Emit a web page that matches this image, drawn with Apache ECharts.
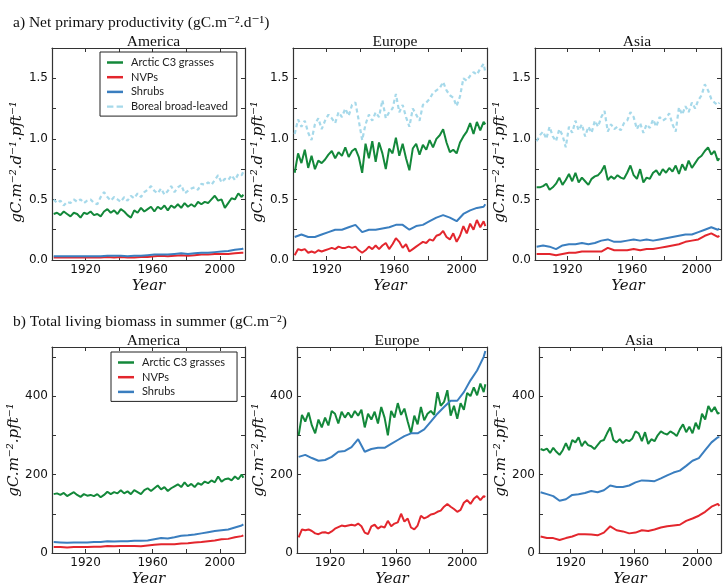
<!DOCTYPE html>
<html><head><meta charset="utf-8">
<script src="https://cdn.jsdelivr.net/npm/echarts@6/dist/echarts.min.js"></script>
<style>html,body{margin:0;padding:0;background:#fff}#c{width:724px;height:588px}</style>
</head><body><div id="c"></div>
<script>
// ---------- categories (years) ----------
const years2 = [1901,1903,1905,1907,1909,1911,1913,1915,1917,1919,1921,1923,1925,1927,1929,1931,1933,1935,1937,1939,1941,1943,1945,1947,1949,1951,1953,1955,1957,1959,1961,1963,1965,1967,1969,1971,1973,1975,1977,1979,1981,1983,1985,1987,1989,1991,1993,1995,1997,1999,2001,2003,2005,2007,2009,2011,2013,2014];
const years4 = [1901,1905,1909,1913,1917,1921,1925,1929,1933,1937,1941,1945,1949,1953,1957,1961,1965,1969,1973,1977,1981,1985,1989,1993,1997,2001,2005,2009,2013,2014];

// ---------- a) NPP, America ----------
const nppAmGrass = [0.38,0.39,0.37,0.40,0.38,0.36,0.39,0.38,0.35,0.39,0.38,0.40,0.37,0.38,0.36,0.40,0.42,0.39,0.41,0.38,0.42,0.40,0.37,0.35,0.41,0.39,0.43,0.40,0.42,0.44,0.40,0.44,0.42,0.45,0.41,0.45,0.43,0.46,0.43,0.47,0.44,0.46,0.44,0.48,0.46,0.48,0.47,0.50,0.53,0.49,0.50,0.43,0.47,0.51,0.50,0.55,0.52,0.54];
const nppAmNvp = [0.02,0.02,0.02,0.02,0.02,0.02,0.02,0.02,0.025,0.02,0.025,0.02,0.02,0.025,0.025,0.03,0.035,0.03,0.035,0.04,0.035,0.04,0.045,0.045,0.05,0.05,0.05,0.055,0.06,0.06];
const nppAmShrub = [0.03,0.03,0.03,0.03,0.03,0.03,0.03,0.03,0.035,0.035,0.035,0.03,0.035,0.035,0.04,0.045,0.045,0.045,0.05,0.055,0.05,0.055,0.06,0.06,0.065,0.07,0.075,0.085,0.09,0.095];
const nppAmBoreal = [0.50,0.47,0.49,0.45,0.48,0.47,0.50,0.48,0.50,0.47,0.49,0.50,0.47,0.46,0.52,0.56,0.52,0.49,0.52,0.50,0.48,0.52,0.49,0.53,0.51,0.55,0.52,0.56,0.58,0.61,0.57,0.55,0.59,0.54,0.57,0.61,0.56,0.60,0.62,0.55,0.57,0.59,0.60,0.58,0.63,0.62,0.64,0.62,0.66,0.70,0.64,0.67,0.66,0.70,0.66,0.71,0.70,0.73];

// ---------- a) NPP, Europe ----------
const nppEuGrass = [0.72,0.88,0.80,0.91,0.76,0.86,0.75,0.82,0.80,0.83,0.87,0.90,0.84,0.89,0.86,0.93,0.85,0.90,0.92,0.85,0.72,0.96,0.84,0.98,0.81,0.97,0.88,0.75,0.92,0.88,1.01,0.86,0.96,0.84,0.74,0.92,0.96,0.87,0.95,0.91,0.99,0.93,1.00,1.03,1.08,0.97,0.89,0.91,0.88,0.97,1.02,1.06,1.13,1.04,1.14,1.07,1.14,1.12];
const nppEuNvp = [0.04,0.09,0.08,0.09,0.06,0.07,0.06,0.08,0.07,0.08,0.09,0.10,0.09,0.11,0.10,0.10,0.11,0.10,0.11,0.08,0.06,0.08,0.11,0.09,0.12,0.09,0.12,0.14,0.09,0.13,0.18,0.15,0.10,0.13,0.07,0.09,0.11,0.13,0.15,0.14,0.17,0.16,0.20,0.21,0.24,0.19,0.17,0.22,0.15,0.20,0.28,0.22,0.30,0.25,0.33,0.27,0.32,0.28];
const nppEuShrub = [0.19,0.21,0.19,0.19,0.21,0.23,0.25,0.25,0.27,0.29,0.23,0.25,0.25,0.26,0.27,0.29,0.29,0.25,0.28,0.29,0.32,0.35,0.37,0.35,0.32,0.38,0.41,0.43,0.44,0.46];
const nppEuBoreal = [1.04,1.16,1.10,1.15,1.05,0.99,1.12,1.17,1.08,1.15,1.20,1.17,1.13,1.22,1.18,1.25,1.19,1.28,1.30,1.15,0.99,1.12,1.20,1.15,1.22,1.18,1.32,1.17,1.22,1.25,1.37,1.22,1.28,1.18,1.10,1.25,1.20,1.15,1.28,1.30,1.33,1.38,1.40,1.42,1.47,1.40,1.36,1.34,1.27,1.35,1.50,1.48,1.52,1.55,1.53,1.58,1.62,1.55];

// ---------- a) NPP, Asia ----------
const nppAsGrass = [0.60,0.60,0.61,0.63,0.58,0.60,0.63,0.68,0.62,0.66,0.71,0.65,0.72,0.64,0.68,0.65,0.62,0.67,0.69,0.70,0.73,0.78,0.66,0.69,0.67,0.70,0.68,0.67,0.72,0.78,0.70,0.67,0.75,0.64,0.68,0.67,0.72,0.74,0.70,0.75,0.72,0.76,0.73,0.78,0.71,0.79,0.74,0.82,0.76,0.80,0.84,0.86,0.90,0.93,0.87,0.90,0.82,0.84];
const nppAsNvp = [0.05,0.05,0.05,0.04,0.05,0.06,0.06,0.07,0.07,0.07,0.07,0.10,0.08,0.08,0.08,0.09,0.08,0.09,0.09,0.10,0.11,0.12,0.13,0.15,0.16,0.17,0.20,0.22,0.19,0.20];
const nppAsShrub = [0.11,0.12,0.11,0.09,0.12,0.13,0.13,0.14,0.13,0.14,0.16,0.17,0.15,0.15,0.16,0.17,0.16,0.17,0.16,0.17,0.18,0.19,0.20,0.21,0.21,0.23,0.25,0.27,0.25,0.26];
const nppAsBoreal = [0.98,1.03,1.06,1.00,1.10,1.02,0.98,1.08,1.03,0.93,1.10,1.05,1.15,1.07,1.12,1.02,1.10,1.05,1.15,1.10,1.18,1.23,1.06,1.12,1.08,1.10,1.07,1.13,1.15,1.22,1.18,1.08,1.13,1.05,1.12,1.09,1.16,1.10,1.18,1.15,1.17,1.21,1.12,1.06,1.26,1.20,1.27,1.22,1.30,1.25,1.32,1.36,1.45,1.40,1.33,1.30,1.28,1.30];

// ---------- b) Biomass, America ----------
const bioAmGrass = [150,152,148,153,145,150,155,148,143,150,146,148,145,150,142,148,156,150,155,152,160,152,157,150,160,155,150,160,165,158,165,172,162,168,158,165,170,175,168,180,170,176,168,178,174,182,178,185,180,195,182,188,190,185,195,188,200,192];
const bioAmNvp = [15,15,14,15,15,15,16,16,18,17,18,18,18,17,19,21,22,22,22,24,25,27,28,30,32,35,36,40,43,45];
const bioAmShrub = [28,27,26,27,27,27,28,28,30,29,30,30,31,31,32,35,38,37,40,44,45,47,50,53,56,58,60,65,70,73];

// ---------- b) Biomass, Europe ----------
const bioEuGrass = [300,352,335,358,325,305,340,320,345,325,362,355,330,360,345,358,345,362,350,365,320,355,340,360,330,372,345,300,362,345,382,352,368,335,305,350,328,372,338,355,362,352,410,375,385,415,350,375,342,382,365,408,400,422,402,432,410,430];
const bioEuNvp = [40,60,58,60,56,50,48,52,53,50,55,62,66,70,68,70,72,70,75,68,52,48,68,72,62,68,65,82,68,75,78,100,80,88,65,60,70,95,88,92,98,100,105,108,118,125,118,112,105,110,128,135,125,138,145,135,145,143];
const bioEuShrub = [245,250,242,235,237,245,258,260,270,290,258,265,268,268,278,288,298,305,305,315,335,355,372,388,388,410,440,465,500,515];

// ---------- b) Biomass, Asia ----------
const bioAsGrass = [265,262,266,255,268,258,250,262,280,262,288,282,295,272,285,275,272,265,275,285,288,305,320,288,282,290,280,288,285,292,310,305,285,308,278,290,285,300,310,305,302,310,305,298,315,328,308,322,305,332,315,355,340,375,360,372,355,358];
const bioAsNvp = [42,38,38,33,38,42,48,48,47,45,52,68,58,55,50,52,58,56,60,65,68,70,72,82,88,95,105,118,125,120];
const bioAsShrub = [155,150,145,133,137,148,150,153,158,155,160,172,168,168,172,180,185,184,183,190,198,205,210,222,235,242,262,282,295,295];

// ---------- labels ----------
const seriesNames = ['Arctic C3 grasses', 'NVPs', 'Shrubs', 'Boreal broad-leaved'];
const regionNames = ['America', 'Europe', 'Asia'];
const titleA = 'a) Net primary productivity (gC.m\u207B\u00B2.d\u207B\u00B9)';
const titleB = 'b) Total living biomass in summer (gC.m\u207B\u00B2)';
const yNameA = 'gC.m\u207B\u00B2.d\u207B\u00B9.pft\u207B\u00B9';
const yNameB = 'gC.m\u207B\u00B2.pft\u207B\u00B9';
const xName = 'Year';

// ---------- styling ----------
const colors = {grass:'#13883a', nvp:'#e3262d', shrub:'#3a7ebf', boreal:'#a6d9ea'};
const axisColor = '#333';
const serif = '"Liberation Serif", "DejaVu Serif", serif';

function pair(xs, ys){ return xs.map((x,i)=>[x, ys[i]]); }

const panels = [
  {region:0, rect:{left:52, top:48, width:193, height:212}, kind:'a',
   data:[[years2,nppAmGrass],[years4,nppAmNvp],[years4,nppAmShrub],[years2,nppAmBoreal]]},
  {region:1, rect:{left:293, top:48, width:194, height:212}, kind:'a',
   data:[[years2,nppEuGrass],[years2,nppEuNvp],[years4,nppEuShrub],[years2,nppEuBoreal]]},
  {region:2, rect:{left:535, top:48, width:194, height:212}, kind:'a',
   data:[[years2,nppAsGrass],[years4,nppAsNvp],[years4,nppAsShrub],[years2,nppAsBoreal]]},
  {region:0, rect:{left:52, top:347, width:193, height:213}, kind:'b',
   data:[[years2,bioAmGrass],[years4,bioAmNvp],[years4,bioAmShrub]]},
  {region:1, rect:{left:297, top:347, width:190, height:213}, kind:'b',
   data:[[years2,bioEuGrass],[years2,bioEuNvp],[years4,bioEuShrub]]},
  {region:2, rect:{left:539, top:347, width:190, height:213}, kind:'b',
   data:[[years2,bioAsGrass],[years4,bioAsNvp],[years4,bioAsShrub]]}
];
const seriesColors = [colors.grass, colors.nvp, colors.shrub, colors.boreal];

const grids = [], xAxes = [], yAxes = [], series = [];
const titles = [
  {text:titleA, left:8, top:10, textStyle:{fontFamily:serif, fontSize:15.5, fontWeight:'normal', color:'#111'}},
  {text:titleB, left:8, top:309, textStyle:{fontFamily:serif, fontSize:15.5, fontWeight:'normal', color:'#111'}}
];

panels.forEach((p, gi) => {
  grids.push(Object.assign({containLabel:false}, p.rect));
  const isA = p.kind === 'a';
  const ymax = isA ? 1.75 : 525;
  const yint = isA ? 0.25 : 100;
  titles.push({text: regionNames[p.region], left: p.rect.left + p.rect.width/2, textAlign:'center',
    top: p.rect.top - 19, textStyle:{fontFamily:serif, fontSize:15.5, fontWeight:'normal', color:'#111'}});
  const tick = {show:true, inside:true, length:4, lineStyle:{color:axisColor, width:1}};
  const line = {show:true, onZero:false, lineStyle:{color:axisColor, width:1.2}};
  xAxes.push({type:'value', gridIndex:gi, min:1900, max:2015, interval:20, position:'bottom',
    axisLine:line, axisTick:tick, splitLine:{show:false},
    axisLabel:{show:true, margin:4, color:'#111', fontFamily:'"DejaVu Sans", sans-serif', fontSize:12,
      formatter:v => (v===1920||v===1960||v===2000) ? String(v) : ''},
    name:xName, nameLocation:'middle', nameGap:19,
    nameTextStyle:{fontFamily:'"DejaVu Serif", serif', fontStyle:'italic', fontSize:15, color:'#111'}});
  xAxes.push({type:'value', gridIndex:gi, min:1900, max:2015, interval:20, position:'top',
    axisLine:line, axisTick:tick, splitLine:{show:false}, axisLabel:{show:false}});
  yAxes.push({type:'value', gridIndex:gi, min:0, max:ymax, interval:yint, position:'left',
    axisLine:line, axisTick:tick, splitLine:{show:false},
    axisLabel:{show:true, margin:4, color:'#111', fontFamily:'"DejaVu Sans", sans-serif', fontSize:12,
      formatter:v => {
        if (isA) { const h = v*2; return (Math.abs(h-Math.round(h))<1e-6 && v<=1.5+1e-6) ? v.toFixed(1) : ''; }
        return (v % 200 === 0 && v <= 400) ? String(v) : '';
      }},
    name: isA ? yNameA : yNameB, nameLocation:'middle', nameGap:21, nameRotate:90,
    nameTextStyle:{fontFamily:'"DejaVu Serif", serif', fontStyle:'italic', fontSize:15, color:'#111',
      padding: isA ? [0,16,0,0] : 0}});
  yAxes.push({type:'value', gridIndex:gi, min:0, max:ymax, interval:yint, position:'right',
    axisLine:line, axisTick:tick, splitLine:{show:false}, axisLabel:{show:false}});
  p.data.forEach((d, si) => {
    const boreal = si === 3;
    series.push({type:'line', name:seriesNames[si], xAxisIndex:2*gi, yAxisIndex:2*gi,
      data:pair(d[0], d[1]), showSymbol:false, symbol:'none', smooth:false, z: boreal ? 1 : 3+si,
      color:seriesColors[si],
      lineStyle:{color:seriesColors[si], width: boreal ? 2.2 : 2, type: boreal ? [4,3] : 'solid'}});
  });
});

const dashIcon = 'path://M0,0h6v2h-6z M9,0h6v2h-6z';
const legendItems = seriesNames.map((n, i) => ({name:n, icon: i === 3 ? dashIcon : 'rect'}));
const legendBase = {orient:'vertical', backgroundColor:'#fff', borderColor:'#222', borderWidth:1,
  itemWidth:16, itemHeight:2.5, itemGap:1.7, selectedMode:false,
  textStyle:{fontFamily:'Lato, "Open Sans", sans-serif', fontSize:11, color:'#222', lineHeight:13, padding:[0,0,0,3]}};

const chart = echarts.init(document.getElementById('c'), null, {renderer:'canvas'});
chart.setOption({
  animation:false,
  backgroundColor:'#fff',
  title:titles,
  grid:grids,
  xAxis:xAxes,
  yAxis:yAxes,
  legend:[
    Object.assign({}, legendBase, {left:100, top:52, padding:[4,9,3,7], data:legendItems}),
    Object.assign({}, legendBase, {left:111, top:352, padding:[4,12,3,7], data:legendItems.slice(0,3)})
  ],
  series:series
});
</script>
</body></html>
